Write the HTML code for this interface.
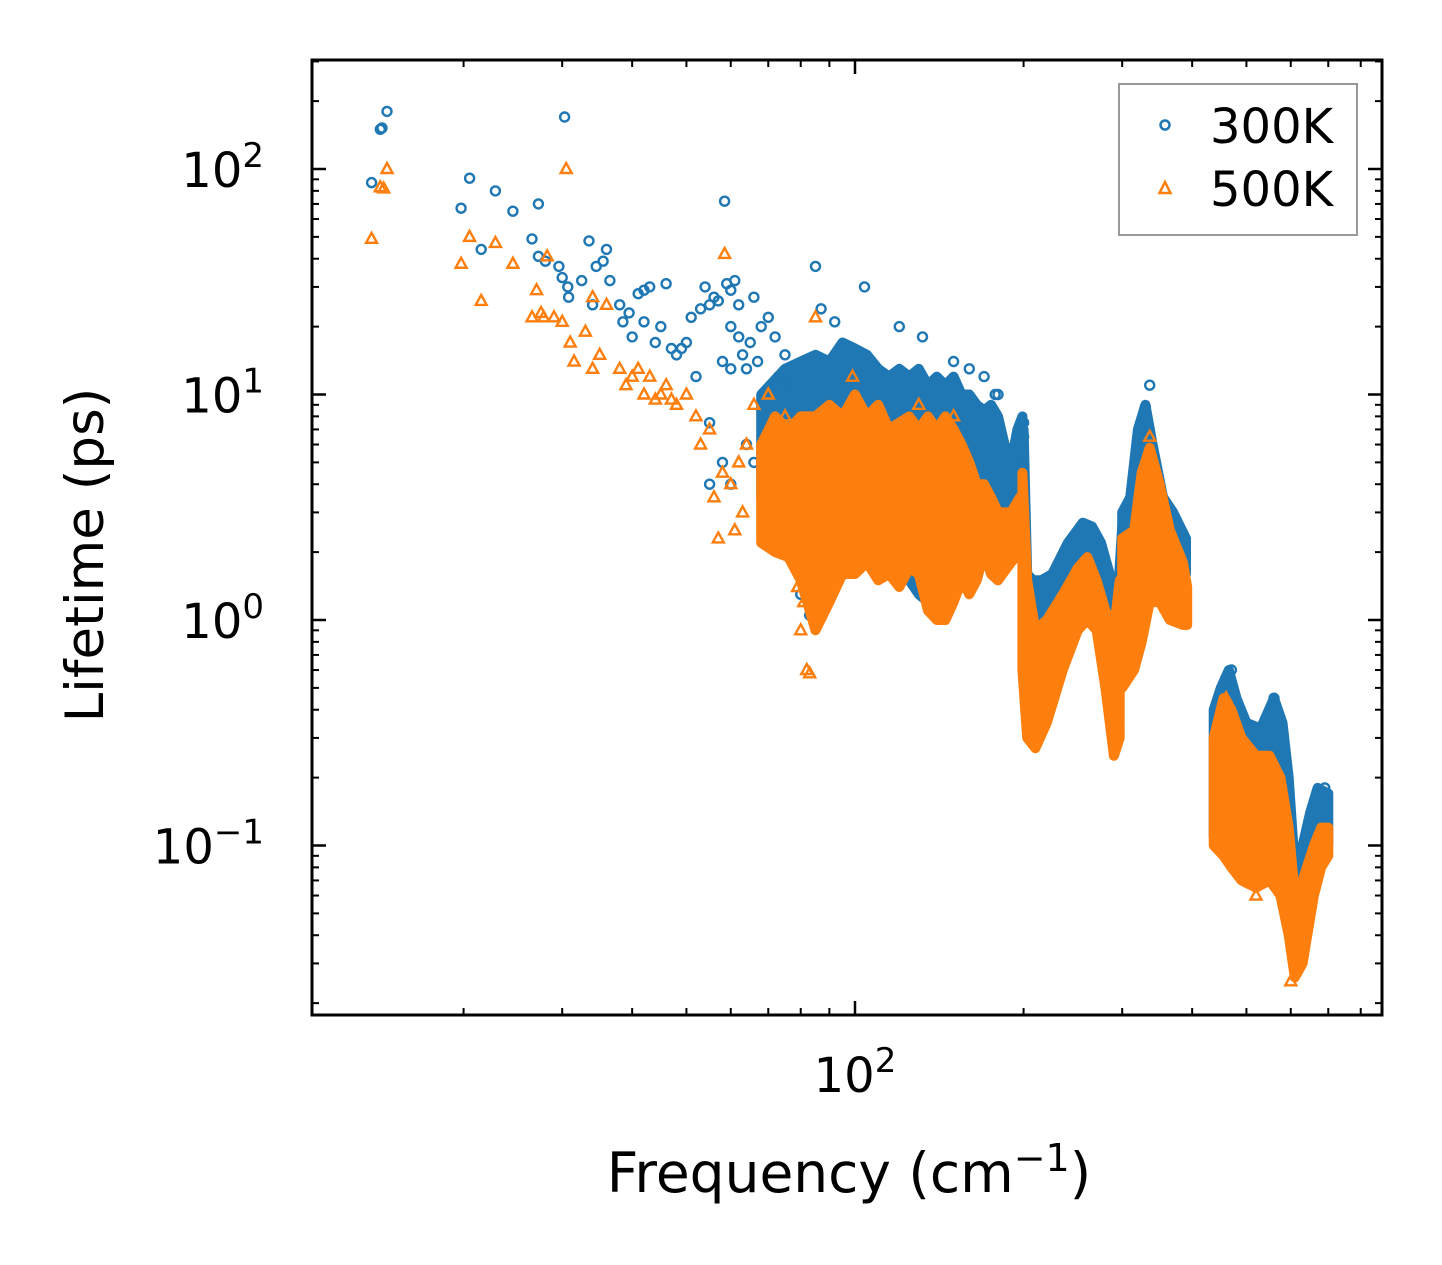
<!DOCTYPE html>
<html><head><meta charset="utf-8"><style>
html,body{margin:0;padding:0;background:#fff}
svg{display:block}
text{font-family:"DejaVu Sans","Liberation Sans",sans-serif}
</style></head><body>
<svg id="chart" width="1442" height="1265" viewBox="0 0 1442 1265">
<defs><clipPath id="pc"><rect x="312" y="60" width="1070" height="955"/></clipPath></defs>
<rect x="0" y="0" width="1442" height="1265" fill="#fff"/>
<g id="plot" clip-path="url(#pc)"></g>
<g id="axes"></g>
<rect x="312" y="60" width="1070" height="955" fill="none" stroke="#000" stroke-width="3"/>
<text x="849" y="1192" font-size="55" text-anchor="middle">Frequency (cm<tspan dy="-21" font-size="38">−1</tspan><tspan dy="21">)</tspan></text>
<text transform="translate(103,555) rotate(-90)" font-size="53" text-anchor="middle">Lifetime (ps)</text>
<g>
<rect x="1119" y="84" width="238" height="151" fill="#fff" stroke="#999" stroke-width="2"/>
<circle cx="1165" cy="125" r="4.5" fill="none" stroke="#1f77b4" stroke-width="2.5"/>
<text x="1210" y="143" font-size="48">300K</text>
<polygon points="1165,182 1159.5,193 1170.5,193" fill="none" stroke="#ff7f0e" stroke-width="2.5"/>
<text x="1210" y="206" font-size="48">500K</text>
</g>
</svg>
<script>
// ---- data (frequency cm^-1, lifetime ps) ----
const xMajorTicks = [100];
const xTickExp = ["2"];
const yMajorTicks = [0.1, 1, 10, 100];
const yTickExp = ["−1", "0", "1", "2"];
// dense bands: [freq, low lifetime, high lifetime]
const band300 = [
 [[68,3.5,10],[75,2.5,13],[80,1.8,14],[85,1.2,15],[90,1.7,14],[95,1.8,17],[100,1.7,16],[105,2,15],[110,1.8,13],[115,1.8,12],[120,1.6,13],[125,1.5,12],[130,1.3,13],[135,1.2,11],[140,1.1,12],[145,1.1,11],[150,1.3,12],[155,1.5,10],[160,1.6,10],[165,1.8,9],[170,2,8.5],[175,1.6,9],[180,1.5,8],[185,2,6],[190,3,5],[195,3,7],[199,2.2,8]],
 [[200,0.8,7],[203,0.45,1.6],[208,0.4,1.5],[215,0.8,1.5],[225,1.2,1.6],[240,1.4,2.2],[255,1.5,2.7],[265,1.3,2.6],[275,1.0,2.2],[285,0.7,1.6],[293,0.5,1.0],[300,0.6,2.6]],
 [[300,0.9,3],[310,1.1,3.5],[320,1.4,7],[330,2,9],[340,1.6,6],[355,1.6,3.5],[370,1.6,3],[390,1.6,2.3]],
 [[437,0.11,0.4],[450,0.12,0.5],[465,0.13,0.6],[480,0.12,0.45],[500,0.1,0.35],[530,0.1,0.33],[560,0.1,0.45],[580,0.09,0.35],[595,0.06,0.2],[610,0.045,0.08],[630,0.05,0.1],[650,0.08,0.14],[670,0.1,0.18],[700,0.1,0.17]]
];
const band500 = [
 [[68,2.2,6],[72,2,8],[76,1.9,7],[80,1.5,8],[85,0.9,8],[90,1.2,9],[95,1.6,8],[100,1.6,10],[105,1.8,8],[110,1.5,9],[115,1.6,7],[120,1.4,7.5],[125,1.7,8],[130,1.6,7],[135,1.1,8],[140,1.0,7],[145,1.0,8],[150,1.2,7],[155,1.5,6],[160,1.3,5],[165,1.5,4],[170,2,4],[175,1.6,3.5],[180,1.5,3],[190,1.8,3],[197,2,3.5]],
 [[199,0.6,4.5],[203,0.3,1.5],[210,0.27,0.9],[220,0.35,1.0],[235,0.6,1.3],[250,0.9,1.7],[260,1.0,1.9],[270,0.9,1.5],[280,0.5,1.1],[290,0.25,0.9],[297,0.3,1.5]],
 [[300,0.5,2.3],[315,0.6,2.5],[325,0.8,4.5],[336,1.2,5.8],[350,1.2,4],[365,1.0,2.5],[385,0.95,1.8],[392,0.95,1.4]],
 [[437,0.1,0.3],[455,0.09,0.45],[470,0.08,0.4],[490,0.07,0.3],[520,0.065,0.25],[550,0.07,0.25],[575,0.06,0.2],[595,0.04,0.12],[610,0.026,0.06],[630,0.03,0.07],[660,0.06,0.1],[680,0.08,0.12],[700,0.09,0.12]]
];
const freq300 = [13.7,14.2,14.3,14.6,19.8,20.5,21.5,22.8,24.5,26.5,27.2,27.2,28,29.6,30,30.7,30.8,30.3,32.5,33.5,34,34.5,35.5,36,36.5,38,38.5,39.5,40,41,42,42,43,44,45,46,47,48,49,50,51,52,53,54,55,55,56,57,58,58,59,60,60,61,62,62,63,64,65,66,67,68,70,72,73,75,76,58.5,64,60,66,85,87,92,104,120,132,83,80,60,55,150,160,170,178,180,200,200,336,330,470,465,560,610,690];
const life300 = [87,150,152,180,67,91,44,80,65,49,70,41,39,37,33,30,27,170,32,48,25,37,39,44,32,25,21,23,18,28,29,21,30,17,20,31,16,15,16,17,22,12,24,30,25,7.5,27,26,14,5,31,29,20,32,25,18,15,13,17,27,14,20,22,18,12,15,11,72,6,4,5,37,24,21,30,20,18,1.05,1.3,13,4,14,13,12,10,10,7.5,6.5,11,8.8,0.6,0.55,0.45,0.06,0.18];
const freq500 = [13.7,14.2,14.4,14.6,19.8,20.5,21.5,22.8,24.5,26.5,27,27.5,27.8,28.2,29,30,30.5,31,31.5,33,34,34,35,36,38,39,40,41,42,43,44,45,46,47,48,50,52,53,55,56,57,58.5,58,60,61,62,63,64,82,83,80,79,85,81,99,130,150,336,330,460,520,600,66,70,75];
const life500 = [49,83,82,100,38,50,26,47,38,22,29,23,22,41,22,21,100,17,14,19,13,27,15,25,13,11,12,13,10,12,9.5,10,11,9.5,9,10,8,6,7,3.5,2.3,42,4.5,4,2.5,5,3,6,0.6,0.58,0.9,1.4,22,1.2,12,9,8,6.5,5,0.45,0.06,0.025,9,10,8];

// ---- axis functions ----
const X = f => 855 + 560 * (Math.log10(f) - 2);
const Y = l => 169 + 225.5 * (2 - Math.log10(l));
const NS = "http://www.w3.org/2000/svg";
const plot = document.getElementById('plot');
const axes = document.getElementById('axes');
function mk(tag, attrs, parent){const e=document.createElementNS(NS,tag);for(const k in attrs)e.setAttribute(k,attrs[k]);if(parent)parent.appendChild(e);return e;}

function drawBands(bands, color, name){
  bands.forEach((b,i)=>{
    const up=b.map(d=>X(d[0]).toFixed(1)+','+Y(d[2]).toFixed(1));
    const dn=b.slice().reverse().map(d=>X(d[0]).toFixed(1)+','+Y(d[1]).toFixed(1));
    const p=mk('polygon',{points:up.concat(dn).join(' '),fill:color,stroke:color,'stroke-width':10,'stroke-linejoin':'round'},plot);
    
    
  });
}
function drawCircles(fs, ls, color){
  fs.forEach((f,i)=>{
    const c=mk('circle',{cx:X(f).toFixed(1),cy:Y(ls[i]).toFixed(1),r:4.5,fill:'none',stroke:color,'stroke-width':2.4},plot);
    
    
  });
}
function drawTriangles(fs, ls, color){
  fs.forEach((f,i)=>{
    const x=X(f), y=Y(ls[i]);
    const t=mk('polygon',{points:`${x},${y-6} ${x-5.5},${y+4} ${x+5.5},${y+4}`,fill:'none',stroke:color,'stroke-width':2.4},plot);
    
    
  });
}
drawBands(band300,'#1f77b4','series-300k');
drawCircles(freq300, life300, '#1f77b4');
drawBands(band500,'#ff7f0e','series-500k');
drawTriangles(freq500, life500, '#ff7f0e');

// ---- ticks ----
function tick(x1,y1,x2,y2,w){const t=mk('line',{x1,y1,x2,y2,stroke:'#000','stroke-width':w},axes);}
function powLabel(x,y,anchor,exp,name){
  const t=mk('text',{x,y,'font-size':48,'text-anchor':anchor},axes);
  
  
  const a=mk('tspan',{},t); a.textContent='10';
  const b=mk('tspan',{dy:-20,'font-size':34},t); b.textContent=exp;
}
for(let d=1; d<=2; d++){
  for(let m=1;m<=9;m++){
    const v=m*Math.pow(10,d), x=X(v);
    if(x<312||x>1382)continue;
    const len = (m===1)?14:7, w=(m===1)?2.5:2;
    tick(x,1015,x,1015-len,w); tick(x,60,x,60+len,w);
  }
}
xMajorTicks.forEach((v,i)=>powLabel(X(v),1092,'middle',xTickExp[i],'x-tick-label'));
for(let d=-2; d<=2; d++){
  for(let m=1;m<=9;m++){
    const v=m*Math.pow(10,d), y=Y(v);
    if(y<60||y>1015)continue;
    const len=(m===1)?14:7, w=(m===1)?2.5:2;
    tick(312,y,312+len,y,w); tick(1382,y,1382-len,y,w);
  }
}
yMajorTicks.forEach((v,i)=>powLabel(264,Y(v)+18,'end',yTickExp[i],'y-tick-label'));
</script>
</body></html>
